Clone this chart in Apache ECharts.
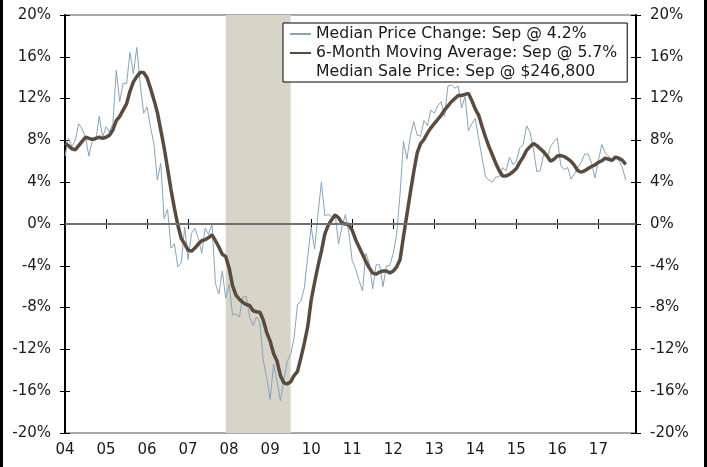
<!DOCTYPE html>
<html>
<head>
<meta charset="utf-8">
<script src="https://cdn.jsdelivr.net/npm/echarts@6/dist/echarts.min.js"></script>
<style>
  html, body { margin: 0; padding: 0; background: #fff; }
  #wrap { position: relative; width: 707px; height: 467px; }
  #chart { width: 707px; height: 467px; }
  .edge { position: absolute; top: 0; width: 3px; height: 467px; background: #000; }
</style>
</head>
<body>
<div id="wrap">
  <div id="chart"></div>
  <div class="edge" style="left:0"></div>
  <div class="edge" style="right:0"></div>
</div>
<script>
// monthly, Jan 2004 - Sep 2017, year-over-year %
var priceChange = [
    6.5, 8.2, 7.4, 8.0, 9.6, 9.1, 8.3, 6.5, 8.0, 8.0, 10.3, 8.3,
    9.3, 8.8, 9.6, 14.7, 11.7, 13.5, 13.4, 16.4, 14.4, 16.9, 13.4, 10.6,
    11.2, 9.3, 7.7, 4.2, 5.8, 0.5, 1.4, -2.3, -1.9, -4.1, -3.7, -0.3,
    -3.4, -0.9, -0.4, -1.4, -2.8, -0.4, -1.0, 0.0, -5.7, -6.7, -4.5, -7.1,
    -5.8, -8.7, -8.6, -8.9, -7.0, -6.9, -8.9, -9.7, -8.9, -9.4, -13.1, -14.7,
    -16.8, -13.4, -15.0, -16.9, -15.0, -13.1, -12.5, -10.9, -7.7, -7.4, -6.1, -3.1,
    -0.3, -2.4, 1.0, 4.0, 0.8, 0.9, 0.7, 1.0, -1.9, -0.3, 0.9, -0.8,
    -3.5, -4.3, -5.4, -6.4, -2.8, -3.8, -6.2, -3.9, -3.9, -6.0, -4.0, -4.0,
    -2.8, -1.0, 2.9, 7.9, 6.2, 8.4, 9.8, 8.5, 8.4, 9.9, 9.4, 10.9,
    10.6, 11.3, 11.7, 10.3, 13.2, 13.3, 13.0, 13.2, 11.1, 12.2, 8.9, 9.6,
    10.1, 8.1, 6.3, 4.5, 4.2, 4.0, 4.5, 4.5, 5.4, 5.1, 6.4, 5.7,
    6.0, 7.3, 7.6, 9.4, 8.8, 7.2, 5.0, 5.1, 6.7, 6.3, 7.4, 7.9,
    8.2, 5.6, 5.2, 5.4, 4.3, 4.8, 5.4, 5.9, 6.7, 6.7, 5.8, 4.4,
    6.1, 7.6, 6.8, 6.5, 5.9, 6.3, 6.1, 5.4, 4.2
];
var movingAvg = [
    7.7, 7.5, 7.2, 7.1, 7.5, 7.9, 8.3, 8.2, 8.1, 8.2, 8.3, 8.2,
    8.3, 8.5, 9.0, 9.9, 10.3, 10.9, 11.5, 12.7, 13.6, 14.1, 14.5, 14.5,
    14.0, 13.0, 11.9, 10.7, 9.0, 7.3, 5.3, 3.3, 1.5, -0.1, -1.4, -1.9,
    -2.5, -2.6, -2.3, -1.9, -1.6, -1.5, -1.3, -1.05, -1.6, -2.2, -2.9, -3.1,
    -4.2, -5.9, -6.8, -7.2, -7.5, -7.7, -7.8, -8.3, -8.4, -8.45, -9.2, -10.4,
    -11.2, -12.4, -13.1, -14.5, -15.2, -15.3, -15.1, -14.5, -14.1, -12.8, -11.4, -9.8,
    -7.3, -5.6, -4.0, -2.6, -0.95, -0.1, 0.4, 0.85, 0.6, 0.1, 0.0, -0.05,
    -0.6, -1.5, -2.2, -2.9, -3.6, -4.2, -4.7, -4.8, -4.6, -4.5, -4.5, -4.7,
    -4.5, -4.1, -3.4, -1.2, 0.9, 3.0, 5.0, 6.8, 7.7, 8.1, 8.7, 9.2,
    9.6, 10.0, 10.4, 10.9, 11.3, 11.7, 12.0, 12.3, 12.3, 12.4, 12.5, 11.8,
    11.0, 10.4, 9.3, 8.3, 7.4, 6.6, 5.8, 5.1, 4.6, 4.6, 4.75, 5.0,
    5.3, 5.9, 6.4, 7.05, 7.4, 7.7, 7.5, 7.2, 6.9, 6.5, 6.0, 6.2,
    6.5, 6.55, 6.45, 6.25, 6.0, 5.6, 5.1, 4.95, 5.1, 5.3, 5.5, 5.65,
    5.9, 6.05, 6.3, 6.2, 6.1, 6.4, 6.3, 6.1, 5.7
];
var seriesNames = [
    'Median Price Change: Sep @ 4.2%',
    '6-Month Moving Average: Sep @ 5.7%',
    'Median Sale Price: Sep @ $246,800'
];
var recession = ['2007-12', '2009-07'];
var yMin = -20, yMax = 20, yStep = 4;

// month categories, axis runs to Dec 2017
var months = [];
for (var y = 2004; y <= 2017; y++) {
    for (var m = 1; m <= 12; m++) {
        months.push(y + '-' + (m < 10 ? '0' + m : m));
    }
}
function isJan(idx, val) { return val.slice(5) === '01'; }

var font = 'DejaVu Sans, Verdana, sans-serif';
var ink = '#1a1a1a';
var blue = '#87a4bc';
var brown = '#5b4b3f';

var chart = echarts.init(document.getElementById('chart'), null, { renderer: 'canvas' });

function yAxisFor(pos, main) {
    return {
        type: 'value', position: pos, min: yMin, max: yMax, interval: yStep,
        axisLine: { show: main, lineStyle: { color: '#000', width: 2 } },
        axisTick: { show: true, inside: !main, length: 5, lineStyle: { color: '#000', width: 1 } },
        axisLabel: {
            show: main, color: ink, fontFamily: font, fontSize: 15, margin: 14,
            formatter: '{value}%'
        },
        splitLine: { show: false }
    };
}
function xAxisFor(main) {
    return {
        type: 'category', position: 'bottom', data: months, boundaryGap: false,
        axisLine: { show: main, lineStyle: { color: '#000', width: 2 } },
        axisTick: { show: true, inside: !main, length: 5, interval: isJan, lineStyle: { color: '#000', width: 1 } },
        axisLabel: {
            show: main, interval: isJan, color: ink, fontFamily: font, fontSize: 15, margin: 10,
            formatter: function(v) { return v.slice(2, 4); }
        },
        splitLine: { show: false }
    };
}

var option = {
    animation: false,
    backgroundColor: '#fff',
    grid: {
        left: 65, right: 71, top: 15, bottom: 34,
        show: true, borderColor: '#555', borderWidth: 1, backgroundColor: 'transparent'
    },
    legend: {
        orient: 'vertical', left: 283, top: 23,
        padding: [3, 10, 2, 6], itemGap: 3,
        itemWidth: 21, itemHeight: 14,
        backgroundColor: '#fff', borderColor: '#000', borderWidth: 1, borderRadius: 0,
        itemStyle: { opacity: 0 },
        textStyle: { color: ink, fontFamily: font, fontSize: 15.7 },
        data: seriesNames
    },
    xAxis: [xAxisFor(true), xAxisFor(false)],
    yAxis: [yAxisFor('left', true), yAxisFor('right', true), yAxisFor('left', false), yAxisFor('right', false)],
    series: [
        {
            name: seriesNames[0], type: 'line', data: priceChange, z: 3,
            symbol: 'none', lineStyle: { color: blue, width: 1 }, itemStyle: { color: blue },
            markArea: {
                silent: true,
                itemStyle: { color: '#d7d4c8' },
                data: [[{ xAxis: recession[0] }, { xAxis: recession[1] }]]
            },
            markLine: {
                silent: true, symbol: 'none', label: { show: false },
                lineStyle: { color: '#707070', width: 2, type: 'solid' },
                data: [{ yAxis: 0 }]
            }
        },
        {
            name: seriesNames[1], type: 'line', data: movingAvg, z: 4,
            symbol: 'none', lineStyle: { color: brown, width: 3.5 }, itemStyle: { color: brown }
        },
        {
            name: seriesNames[2], type: 'line', data: [],
            symbol: 'none', lineStyle: { color: 'rgba(0,0,0,0)', width: 0 }, itemStyle: { color: 'rgba(0,0,0,0)' }
        }
    ]
};

chart.setOption(option);
window.addEventListener('resize', function() { chart.resize(); });
</script>
</body>
</html>
